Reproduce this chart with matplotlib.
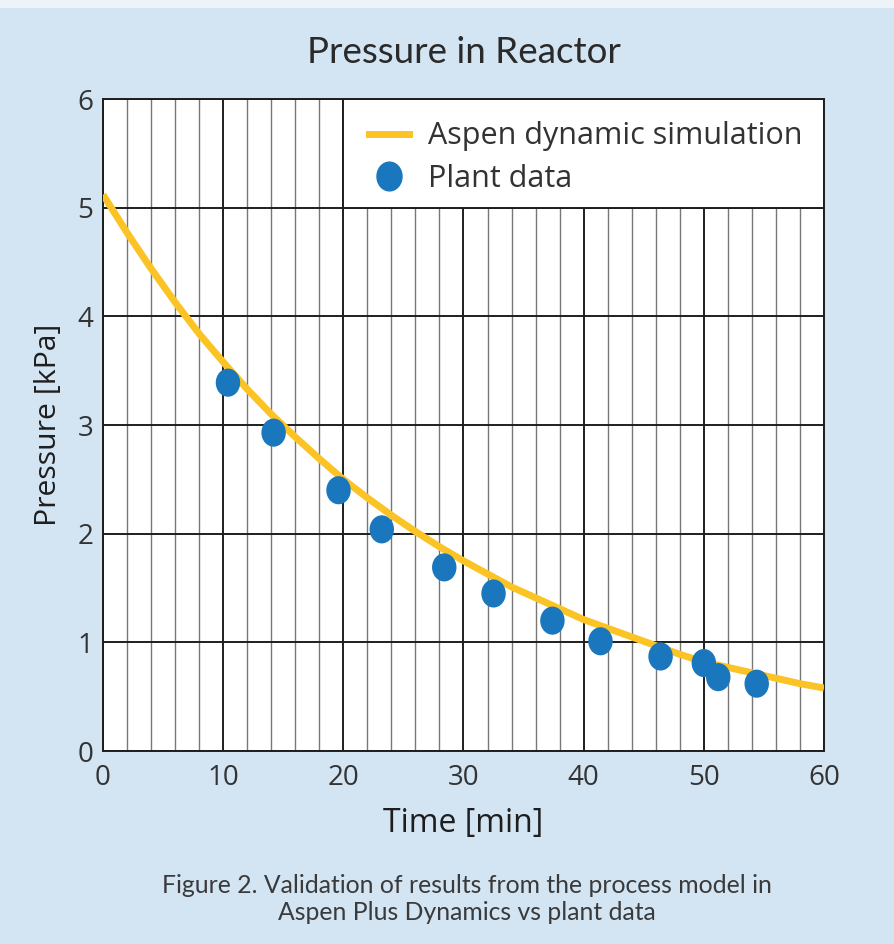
import matplotlib
matplotlib.use("Agg")
import matplotlib.pyplot as plt
from matplotlib.markers import MarkerStyle
from matplotlib.transforms import Affine2D
from matplotlib.patches import Rectangle
from matplotlib.lines import Line2D

# Simulation curve
sim_time = [0, 2, 4, 6, 8, 10, 12, 14, 16, 18, 20, 22, 24, 26, 28, 30,
            32, 34, 36, 38, 40, 42, 44, 46, 48, 50, 52, 54, 56, 58, 60]
sim_pressure = [5.12, 4.77, 4.44, 4.13, 3.84, 3.58, 3.33, 3.10, 2.89, 2.69,
                2.50, 2.33, 2.17, 2.02, 1.88, 1.75, 1.63, 1.51, 1.41, 1.31,
                1.21, 1.13, 1.05, 0.97, 0.89, 0.82, 0.77, 0.72, 0.67, 0.62, 0.58]

# Plant data
plant_time = [10.4, 14.2, 19.6, 23.2, 28.4, 32.5, 37.4, 41.4, 46.4, 50.0, 51.2, 54.4]
plant_pressure = [3.39, 2.93, 2.40, 2.04, 1.69, 1.45, 1.20, 1.01, 0.87, 0.81, 0.68, 0.62]

x_ticks = [0, 10, 20, 30, 40, 50, 60]
y_ticks = [0, 1, 2, 3, 4, 5, 6]

BG = "#d3e4f3"
LINE_C = "#fcc325"
DOT_C = "#1a77bd"
TXT = "#333333"

fig = plt.figure(figsize=(8.94, 9.44), dpi=100, facecolor=BG)
fig.patches.append(Rectangle((0, 0.992), 1, 0.008, transform=fig.transFigure,
                             facecolor="#eef3f8", edgecolor="none", zorder=0))
ax = fig.add_axes([0.1152, 0.2044, 0.8065, 0.6907])
ax.set_facecolor("white")
ax.set_xlim(0, 60)
ax.set_ylim(0, 6)
ax.set_axisbelow(True)

ax.set_xticks(x_ticks)
ax.set_yticks(y_ticks)
ax.set_xticks(list(range(0, 61, 2)), minor=True)
ax.grid(which="major", color="#1e1e1e", lw=1.4)
ax.grid(which="minor", axis="x", color="#777777", lw=1.0)
ax.tick_params(which="both", length=0, labelsize=20, labelcolor=TXT)
ax.tick_params(axis="x", pad=9)
ax.tick_params(axis="y", pad=7)
for lab in ax.get_xticklabels() + ax.get_yticklabels():
    lab.set_fontfamily("Open Sans")
for s in ax.spines.values():
    s.set_color("#1e1e1e")
    s.set_linewidth(1.4)

# legend box region (white, covers grid)
ax.add_patch(Rectangle((20, 5), 40, 1, facecolor="white", edgecolor="#1e1e1e",
                       lw=1.4, zorder=1))

ax.plot(sim_time, sim_pressure, color=LINE_C, lw=5, zorder=3, solid_capstyle="butt")
mk = MarkerStyle("o", transform=Affine2D().scale(1.0, 1.15))
ax.scatter(plant_time, plant_pressure, s=310, marker=mk, color=DOT_C,
           edgecolors="none", zorder=4)

handles = [Line2D([], [], color=LINE_C, lw=5),
           Line2D([], [], ls="none", marker=mk, markersize=18, color=DOT_C)]
leg = ax.legend(handles, ["Aspen dynamic simulation", "Plant data"],
                loc="upper left", bbox_to_anchor=(0.331, 1.008), frameon=False,
                prop={"family": "Open Sans", "size": 22}, handlelength=1.3,
                handletextpad=0.62, labelspacing=0.42, labelcolor=TXT)
leg.set_zorder(5)

ax.set_xlabel("Time [min]", fontsize=23, color="#1e1e1e", family="Open Sans", labelpad=11)
ax.set_ylabel("Pressure [kPa]", fontsize=21.7, color="#1e1e1e", family="Open Sans", labelpad=10)

fig.text(0.519, 0.944, "Pressure in Reactor", ha="center", va="center",
         fontsize=26.5, color="#2a2a2a", family="Lato")
fig.text(0.522, 0.0475, "Figure 2. Validation of results from the process model in\nAspen Plus Dynamics vs plant data",
         ha="center", va="center", fontsize=17.8, color="#3a3a3a", family="Lato",
         linespacing=1.22)

fig.savefig("out.png", dpi=100, facecolor=BG)
